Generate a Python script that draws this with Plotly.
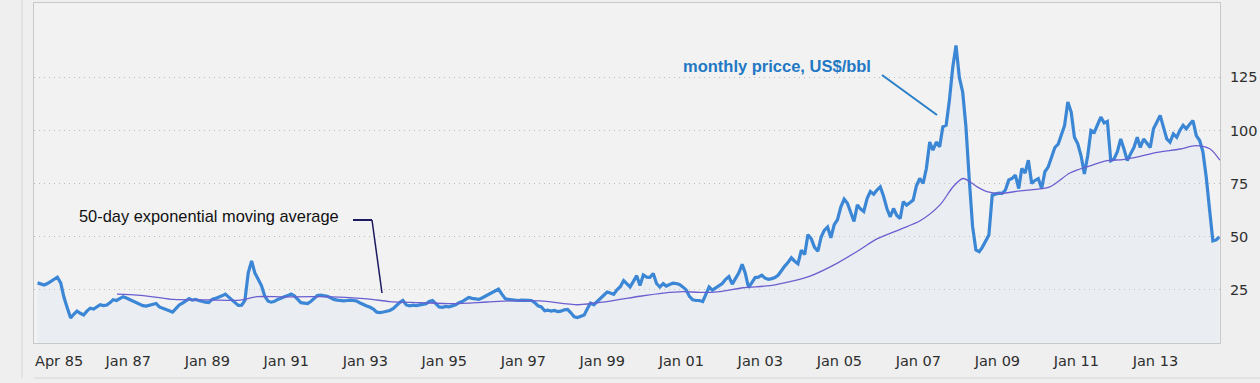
import pandas as pd
import plotly.graph_objects as go

# ---------------- data ----------------
start_month = "1985-04-01"

price_1985 = [28.3, 27.8, 27.3, 28.0, 29.0, 30.2, 31.0, 28.3, 21.5]  # Apr-Dec
price_1986 = [16.5, 11.8, 13.5, 15.0, 14.0, 13.2, 15.0, 16.4, 16.0, 17.2, 18.0, 17.6]
price_1987 = [17.9, 19.0, 20.4, 20.0, 20.8, 21.8, 21.2, 20.5, 19.8, 19.0, 18.2, 17.6]
price_1988 = [17.4, 17.8, 18.2, 18.6, 17.0, 16.5, 15.8, 15.2, 14.5, 16.0, 17.9, 18.8]
price_1989 = [19.8, 20.9, 20.2, 20.5, 20.0, 19.5, 19.2, 19.0, 20.5, 21.0, 21.5, 22.2]
price_1990 = [23.0, 21.5, 20.0, 19.0, 17.7, 17.8, 20.0, 33.0, 38.6, 33.0, 30.0, 27.0]
price_1991 = [22.0, 19.7, 19.2, 19.6, 20.5, 21.3, 21.8, 22.3, 23.0, 22.2, 20.5, 19.0]
price_1992 = [18.8, 18.6, 19.5, 21.0, 22.3, 22.5, 22.2, 22.0, 21.3, 20.5, 20.2, 20.0]
price_1993 = [19.8, 20.0, 20.2, 20.0, 19.7, 18.8, 18.0, 17.4, 16.8, 16.0, 14.5, 14.3]
price_1994 = [14.6, 15.0, 15.3, 16.2, 17.8, 19.0, 20.0, 17.9, 17.5, 17.8, 17.6, 17.9]
price_1995 = [18.0, 18.5, 19.5, 20.0, 18.5, 17.0, 16.8, 17.2, 17.0, 17.4, 18.0, 19.0]
price_1996 = [19.5, 20.5, 21.4, 21.0, 20.8, 20.5, 21.2, 22.0, 23.0, 23.8, 24.5, 25.4]
price_1997 = [23.0, 20.9, 20.5, 20.3, 20.1, 20.0, 20.2, 20.0, 20.1, 20.0, 19.0, 17.5]
price_1998 = [17.0, 15.2, 15.5, 15.0, 15.3, 14.8, 15.0, 15.6, 15.8, 14.2, 12.3, 12.0]
price_1999 = [12.5, 13.2, 16.0, 18.8, 18.0, 19.5, 21.0, 22.5, 24.0, 23.5, 22.9, 25.0]
price_2000 = [26.5, 29.4, 28.0, 26.4, 29.0, 31.7, 27.1, 32.0, 31.0, 30.9, 32.7, 28.0]
price_2001 = [26.4, 27.9, 26.8, 27.5, 28.2, 28.0, 27.5, 26.4, 25.0, 22.0, 20.3, 20.0]
price_2002 = [20.0, 19.5, 23.0, 26.4, 24.9, 26.0, 26.9, 28.0, 30.0, 31.3, 27.7, 30.0]
price_2003 = [33.0, 37.0, 33.0, 26.1, 28.5, 30.8, 31.0, 31.9, 30.5, 30.0, 30.3, 30.8]
price_2004 = [32.0, 34.5, 36.2, 38.0, 40.1, 38.5, 37.3, 43.7, 41.7, 51.0, 49.0, 45.0]
price_2005 = [43.2, 50.0, 53.0, 54.6, 49.5, 55.7, 58.0, 64.0, 67.7, 65.8, 61.0, 57.2]
price_2006 = [65.0, 63.0, 61.9, 68.0, 71.3, 70.0, 72.0, 73.5, 68.9, 63.3, 59.4, 63.3]
price_2007 = [60.0, 58.6, 66.5, 64.9, 66.0, 67.3, 74.0, 77.4, 75.1, 82.1, 94.6, 90.7]
price_2008 = [94.6, 92.3, 101.7, 102.5, 114.2, 129.8, 140.0, 125.0, 118.0, 101.7, 76.7, 55.0]
price_2009 = [43.8, 43.0, 45.0, 47.7, 50.8, 69.6, 70.0, 70.5, 70.4, 72.0, 76.7, 77.4]
price_2010 = [79.0, 72.7, 82.1, 80.0, 86.0, 75.1, 76.5, 77.4, 72.7, 80.6, 82.9, 87.3]
price_2011 = [92.0, 93.6, 98.0, 102.4, 113.4, 108.7, 96.8, 93.7, 88.0, 79.5, 88.2, 100.0]
price_2012 = [99.2, 103.0, 106.3, 103.6, 104.3, 85.8, 86.6, 90.0, 96.0, 91.3, 85.8, 89.0]
price_2013 = [92.0, 96.8, 92.0, 96.0, 94.0, 92.0, 100.8, 104.0, 107.1, 101.6, 96.0, 94.5]
price_2014 = [98.4, 96.8, 100.0, 102.4, 100.8, 103.0, 104.7, 97.6, 95.3, 90.0, 78.0, 63.0]
price_2015 = [48.0, 48.5, 49.9]  # Jan-Mar

ema_dates = ["1987-04-19", "1987-10-21", "1988-04-24", "1988-09-19", "1989-08-27",
             "1990-06-01", "1990-11-04", "1991-07-01", "1992-05-12", "1993-08-18",
             "1994-03-15", "1994-12-21", "1995-10-21", "1996-09-01", "1997-04-01",
             "1998-01-04", "1998-12-21", "1999-09-15", "2000-07-15", "2001-02-15",
             "2001-08-18", "2002-01-21", "2002-07-24", "2003-02-24", "2003-11-01",
             "2004-06-01", "2004-11-04", "2005-07-10", "2006-02-10", "2006-07-15",
             "2007-02-15", "2007-08-18", "2008-02-18", "2008-06-18", "2008-09-18",
             "2009-01-27", "2009-04-27", "2009-08-27", "2010-02-27", "2010-12-01",
             "2011-06-03", "2011-12-06", "2012-05-12", "2012-10-06", "2013-03-12",
             "2013-08-18", "2014-03-18", "2014-08-12", "2014-12-21", "2015-03-21"]
ema_values = [23.0, 22.5, 21.5, 20.5, 20.3,
              20.2, 21.8, 21.7, 21.8, 20.8,
              19.5, 19.0, 18.5, 19.3, 19.8,
              19.8, 18.0, 19.5, 22.0, 23.5,
              24.2, 23.8, 24.2, 26.0, 27.0,
              29.2, 31.5, 37.5, 44.0, 49.0,
              53.5, 57.5, 65.0, 73.5, 77.4,
              73.5, 71.2, 70.4, 71.6, 73.5,
              80.0, 83.4, 85.8, 86.3, 87.8,
              89.7, 91.3, 92.9, 91.3, 86.0]

tick_dates = ["1985-04-01", "1987-01-01", "1989-01-01", "1991-01-01", "1993-01-01",
              "1995-01-01", "1997-01-01", "1999-01-01", "2001-01-01", "2003-01-01",
              "2005-01-01", "2007-01-01", "2009-01-01", "2011-01-01", "2013-01-01"]
tick_labels = ["Apr 85", "Jan 87", "Jan 89", "Jan 91", "Jan 93", "Jan 95", "Jan 97",
               "Jan 99", "Jan 01", "Jan 03", "Jan 05", "Jan 07", "Jan 09", "Jan 11", "Jan 13"]
y_ticks = [25, 50, 75, 100, 125]

price = (price_1985 + price_1986 + price_1987 + price_1988 + price_1989 + price_1990 +
         price_1991 + price_1992 + price_1993 + price_1994 + price_1995 + price_1996 +
         price_1997 + price_1998 + price_1999 + price_2000 + price_2001 + price_2002 +
         price_2003 + price_2004 + price_2005 + price_2006 + price_2007 + price_2008 +
         price_2009 + price_2010 + price_2011 + price_2012 + price_2013 + price_2014 +
         price_2015)
months = pd.date_range(start_month, periods=len(price), freq="MS") + pd.Timedelta(days=14)

# ---------------- figure ----------------
W, H = 1260, 383
ML, MR, MT, MB = 34, 40, 3, 40
PW, PH = W - ML - MR, H - MT - MB


def px(x):
    return (x - ML) / PW


def py(y):
    return (H - MB - y) / PH


fig = go.Figure()
fig.add_trace(go.Scatter(
    x=months, y=price, mode="lines",
    line=dict(color="#3b87d6", width=3.2),
    fill="tozeroy", fillcolor="rgba(205,218,235,0.22)",
    hoverinfo="skip", showlegend=False))
fig.add_trace(go.Scatter(
    x=pd.to_datetime(ema_dates), y=ema_values, mode="lines",
    line=dict(color="#6a5fd0", width=1.3, shape="spline", smoothing=0.8),
    hoverinfo="skip", showlegend=False))

tick_font = dict(family="DejaVu Sans", size=14.5, color="#2e2e2e")

fig.update_layout(
    width=W, height=H, autosize=False,
    margin=dict(l=ML, r=MR, t=MT, b=MB, pad=0),
    paper_bgcolor="#efefef", plot_bgcolor="#f2f2f2",
    hovermode=False,
    xaxis=dict(
        range=["1985-03-13", "2015-03-22"], type="date",
        tickvals=pd.to_datetime(tick_dates), ticktext=tick_labels,
        ticks="", showgrid=False, zeroline=False,
        showline=True, linecolor="#c9c9c9", linewidth=1, mirror=True,
        tickfont=tick_font, ticklabelshift=23, ticklabelstandoff=5),
    yaxis=dict(
        range=[0, 160], side="right", tickvals=y_ticks,
        ticks="", showgrid=True, gridcolor="#bdbdbd", griddash="1px,4px", gridwidth=1,
        zeroline=False, showline=True, linecolor="#c9c9c9", linewidth=1, mirror=True,
        tickfont=tick_font, ticklabelstandoff=6),
)

fig.add_annotation(
    x=px(777), y=py(66), xref="paper", yref="paper",
    text="<b>monthly pricce, US$/bbl</b>", showarrow=False,
    font=dict(family="Liberation Sans", size=16.5, color="#1f78c4"),
    xanchor="center", yanchor="middle")
fig.add_annotation(
    x=px(77), y=py(216), xref="paper", yref="paper",
    text="50-day exponential moving average", showarrow=False,
    font=dict(family="Liberation Sans", size=16.4, color="#111111"),
    xanchor="left", yanchor="middle")

shapes = [
    dict(type="line", xref="paper", yref="paper", x0=px(882), y0=py(75), x1=px(937), y1=py(115),
         line=dict(color="#2a7fc6", width=2)),
    dict(type="line", xref="paper", yref="paper", x0=px(353), y0=py(220), x1=px(372), y1=py(220),
         line=dict(color="#1d1a60", width=2)),
    dict(type="line", xref="paper", yref="paper", x0=px(372), y0=py(220), x1=px(382), y1=py(293),
         line=dict(color="#1d1a60", width=1.5)),
    dict(type="line", xref="paper", yref="paper", x0=px(22), y0=py(0), x1=px(22), y1=py(378),
         line=dict(color="#d6d6d6", width=1)),
    dict(type="line", xref="paper", yref="paper", x0=px(34), y0=py(378), x1=px(1260), y1=py(378),
         line=dict(color="#d6d6d6", width=1)),
]
fig.update_layout(shapes=shapes)

fig.write_html("out.html", config={"displayModeBar": False, "staticPlot": True},
               post_script="document.body.style.margin='0';")
